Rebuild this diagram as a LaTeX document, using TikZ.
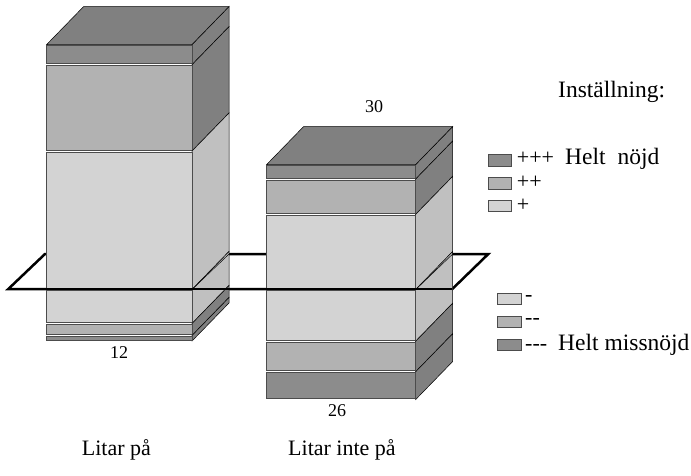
\documentclass[tikz,border=0pt]{standalone}
\usepackage{fontspec}
\setmainfont{Liberation Serif}
\definecolor{fdark}{HTML}{8C8C8C}
\definecolor{fmid}{HTML}{B2B2B2}
\definecolor{flight}{HTML}{D3D3D3}
\definecolor{sdark}{HTML}{808080}
\definecolor{slight}{HTML}{C0C0C0}
\begin{document}
\begin{tikzpicture}[x=1pt,y=-1pt,
   front/.style={draw=black!70,line width=0.6pt},
   side/.style={draw=black,line width=0.5pt},
   ring/.style={line width=2.5pt},
   key/.style={draw=black!70,line width=0.8pt},
   lbl/.style={font=\fontsize{22}{26}\selectfont,inner sep=0pt},
   word/.style={font=\fontsize{23.5}{28}\selectfont,inner sep=0pt},
   num/.style={font=\fontsize{18}{22}\selectfont,inner sep=0pt}]
   \useasboundingbox (0,0) rectangle (691,475);

   \draw[ring] (8.3,289) -- (45,254) -- (488.3,254) -- (452.3,289) -- cycle;

   \foreach \t/\b/\f/\s in {44.5/64.7/fdark/sdark, 64.7/151/fmid/sdark,
      151/289.5/flight/slight, 289.5/323.5/flight/slight,
      323.5/335.5/fmid/sdark, 335.5/341/fdark/sdark} {
      \filldraw[side,fill=\s] (192,\t) -- (229,{\t-38}) -- (229,{\b-38}) -- (192,\b) -- cycle;
      \filldraw[front,fill=\f] (46.7,{\t+1}) rectangle (192,{\b-1});
   }
   \filldraw[side,fill=sdark] (46.7,44.5) -- (83.7,6.5) -- (229,6.5) -- (192,44.5) -- cycle;

   \foreach \t/\b/\f/\s in {164.5/179/fdark/sdark, 179/214.3/fmid/sdark,
      214.3/289.5/flight/slight, 289.5/341.2/flight/slight,
      341.2/371.7/fmid/sdark, 371.7/399.5/fdark/sdark} {
      \filldraw[side,fill=\s] (415.7,\t) -- (452.7,{\t-38}) -- (452.7,{\b-38}) -- (415.7,\b) -- cycle;
      \filldraw[front,fill=\f] (266.7,{\t+1}) rectangle (415.7,{\b-1});
   }
   \filldraw[side,fill=sdark] (266.7,164.5) -- (303.7,126.5) -- (452.7,126.5) -- (415.7,164.5) -- cycle;

   \draw[side] (192,289.5) -- (229,254);
   \draw[side] (415.7,289.5) -- (452.7,254);
   \draw[ring] (8.3,289) -- (452.3,289);

   \node[num,anchor=base] (n12) at (119,358) {12};
   \node[num,anchor=base] (n30) at (374,112.7) {30};
   \node[num,anchor=base] (n26) at (337,416) {26};
   \node[lbl,anchor=base west] (litar) at (81.7,455) {Litar på};
   \node[lbl,anchor=base west] (litarinte) at (288,455) {Litar inte på};
   \node[word,anchor=base west] (title) at (558,97.7) {Inställning:};

   \draw[key,fill=fdark] (488.3,154.3) rectangle (511.7,166);
   \draw[key,fill=fmid] (488.3,177) rectangle (511.7,189);
   \draw[key,fill=flight] (488.3,200) rectangle (511.7,211.7);
   \draw[key,fill=flight] (497.3,293.3) rectangle (521.7,304.3);
   \draw[key,fill=fmid] (497.3,316) rectangle (521.7,327.7);
   \draw[key,fill=fdark] (497.3,339.3) rectangle (521.7,350.7);

   \node[lbl,anchor=base west] (k3) at (516.7,164.5) {+++};
   \node[word,anchor=base west] (k3w) at (565,164.5) {Helt\hspace{12pt}nöjd};
   \node[lbl,anchor=base west] (k2) at (516.7,188.5) {++};
   \node[lbl,anchor=base west] (k1) at (516.7,211) {+};
   \node[lbl,anchor=base west] (m1) at (525,301) {\mbox{-}};
   \node[lbl,anchor=base west] (m2) at (525,324) {\mbox{-}\mbox{-}};
   \node[lbl,anchor=base west] (m3) at (525,350.7) {\mbox{-}\mbox{-}\mbox{-}};
   \node[word,anchor=base west] (m3w) at (558,350.7) {Helt missnöjd};
\end{tikzpicture}
\end{document}
